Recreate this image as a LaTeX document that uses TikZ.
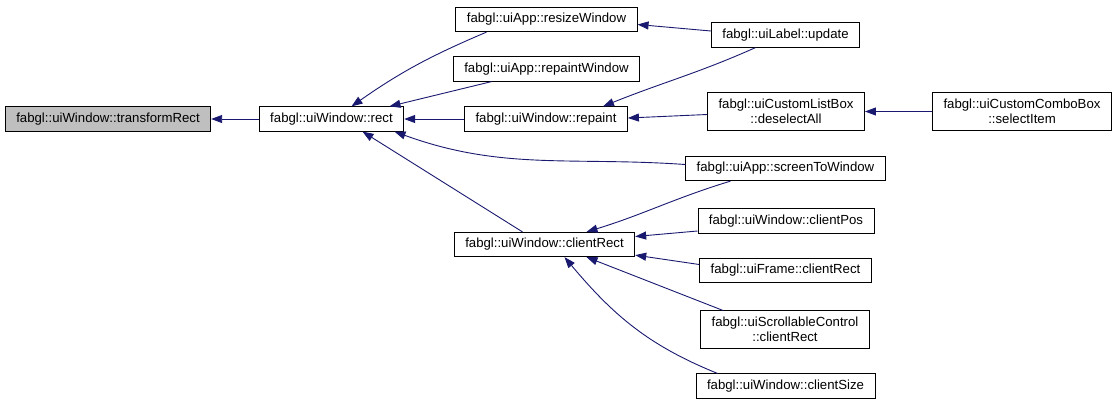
\documentclass[tikz,border=0pt]{standalone}
\usepackage{fontspec}
\setmainfont{Liberation Sans}
\usetikzlibrary{arrows.meta,positioning}
\definecolor{midnight}{HTML}{191970}

\begin{document}
\begin{tikzpicture}[x=1pt,y=1pt,
every node/.style={rectangle,draw,fill=white,line width=0.9pt,
 font=\fontsize{13.2}{15.5}\selectfont,align=center,
 inner xsep=11pt,inner ysep=6pt,minimum height=24pt},
call/.style={draw=midnight,line width=0.9pt,
 -{Triangle[length=11pt,width=8pt,fill=midnight]}}]
\useasboundingbox (0,0) rectangle (1117,-408);
\node[fill=gray!50] (trRect) at (108,-119) {fabgl::uiWindow::transformRect};
\node (rect) at (331.5,-119) {fabgl::uiWindow::rect};
\node (resize) at (546.5,-19.5) {fabgl::uiApp::resizeWindow};
\node (repwin) at (546.5,-69) {fabgl::uiApp::repaintWindow};
\node (repaint) at (546,-119) {fabgl::uiWindow::repaint};
\node (crect) at (544.5,-244.5) {fabgl::uiWindow::clientRect};
\node (update) at (785.5,-35) {fabgl::uiLabel::update};
\node (desel) at (786,-111.5) {fabgl::uiCustomListBox\\::deselectAll};
\node (selitem) at (1022,-111.5) {fabgl::uiCustomComboBox\\::selectItem};
\node (stw) at (785.5,-168.5) {fabgl::uiApp::screenToWindow};
\node (cpos) at (786,-221) {fabgl::uiWindow::clientPos};
\node (frame) at (785.5,-270.5) {fabgl::uiFrame::clientRect};
\node (scroll) at (785,-329.5) {fabgl::uiScrollableControl\\::clientRect};
\node (csize) at (785.5,-386) {fabgl::uiWindow::clientSize};
% callers of rect
\draw[call] (rect) -- (trRect);
\draw[call] ([xshift=-60pt]resize.south) to[out=203,in=35] ([xshift=20pt]rect.north);
\draw[call] ([xshift=-55pt]repwin.south) -- ([xshift=58pt]rect.north);
\draw[call] (repaint) -- (rect);
\draw[call] ([yshift=4pt]stw.west) to[out=176,in=-20] ([xshift=63pt]rect.south);
\draw[call] ([xshift=-22pt]crect.north) -- ([xshift=31pt]rect.south);
% second level
\draw[call] ([yshift=4pt]update.west) -- ([yshift=-5pt]resize.east);
\draw[call] ([xshift=-30pt]update.south) to[out=204,in=22] ([xshift=57pt]repaint.north);
\draw[call] ([yshift=-3pt]desel.west) -- ([yshift=1pt]repaint.east);
\draw[call] (selitem) -- (desel);
% callers of clientRect
\draw[call] ([xshift=-55pt]stw.south) to[out=197,in=17] ([xshift=42pt]crect.north);
\draw[call] ([yshift=-10pt]cpos.west) -- ([yshift=8pt]crect.east);
\draw[call] ([yshift=6pt]frame.west) -- ([yshift=2pt]crect.south east);
\draw[call] ([xshift=-62pt]scroll.north) -- ([xshift=42pt]crect.south);
\draw[call] ([xshift=-68pt]csize.north) to[out=158,in=-50] ([xshift=20pt]crect.south);
\end{tikzpicture}
\end{document}
